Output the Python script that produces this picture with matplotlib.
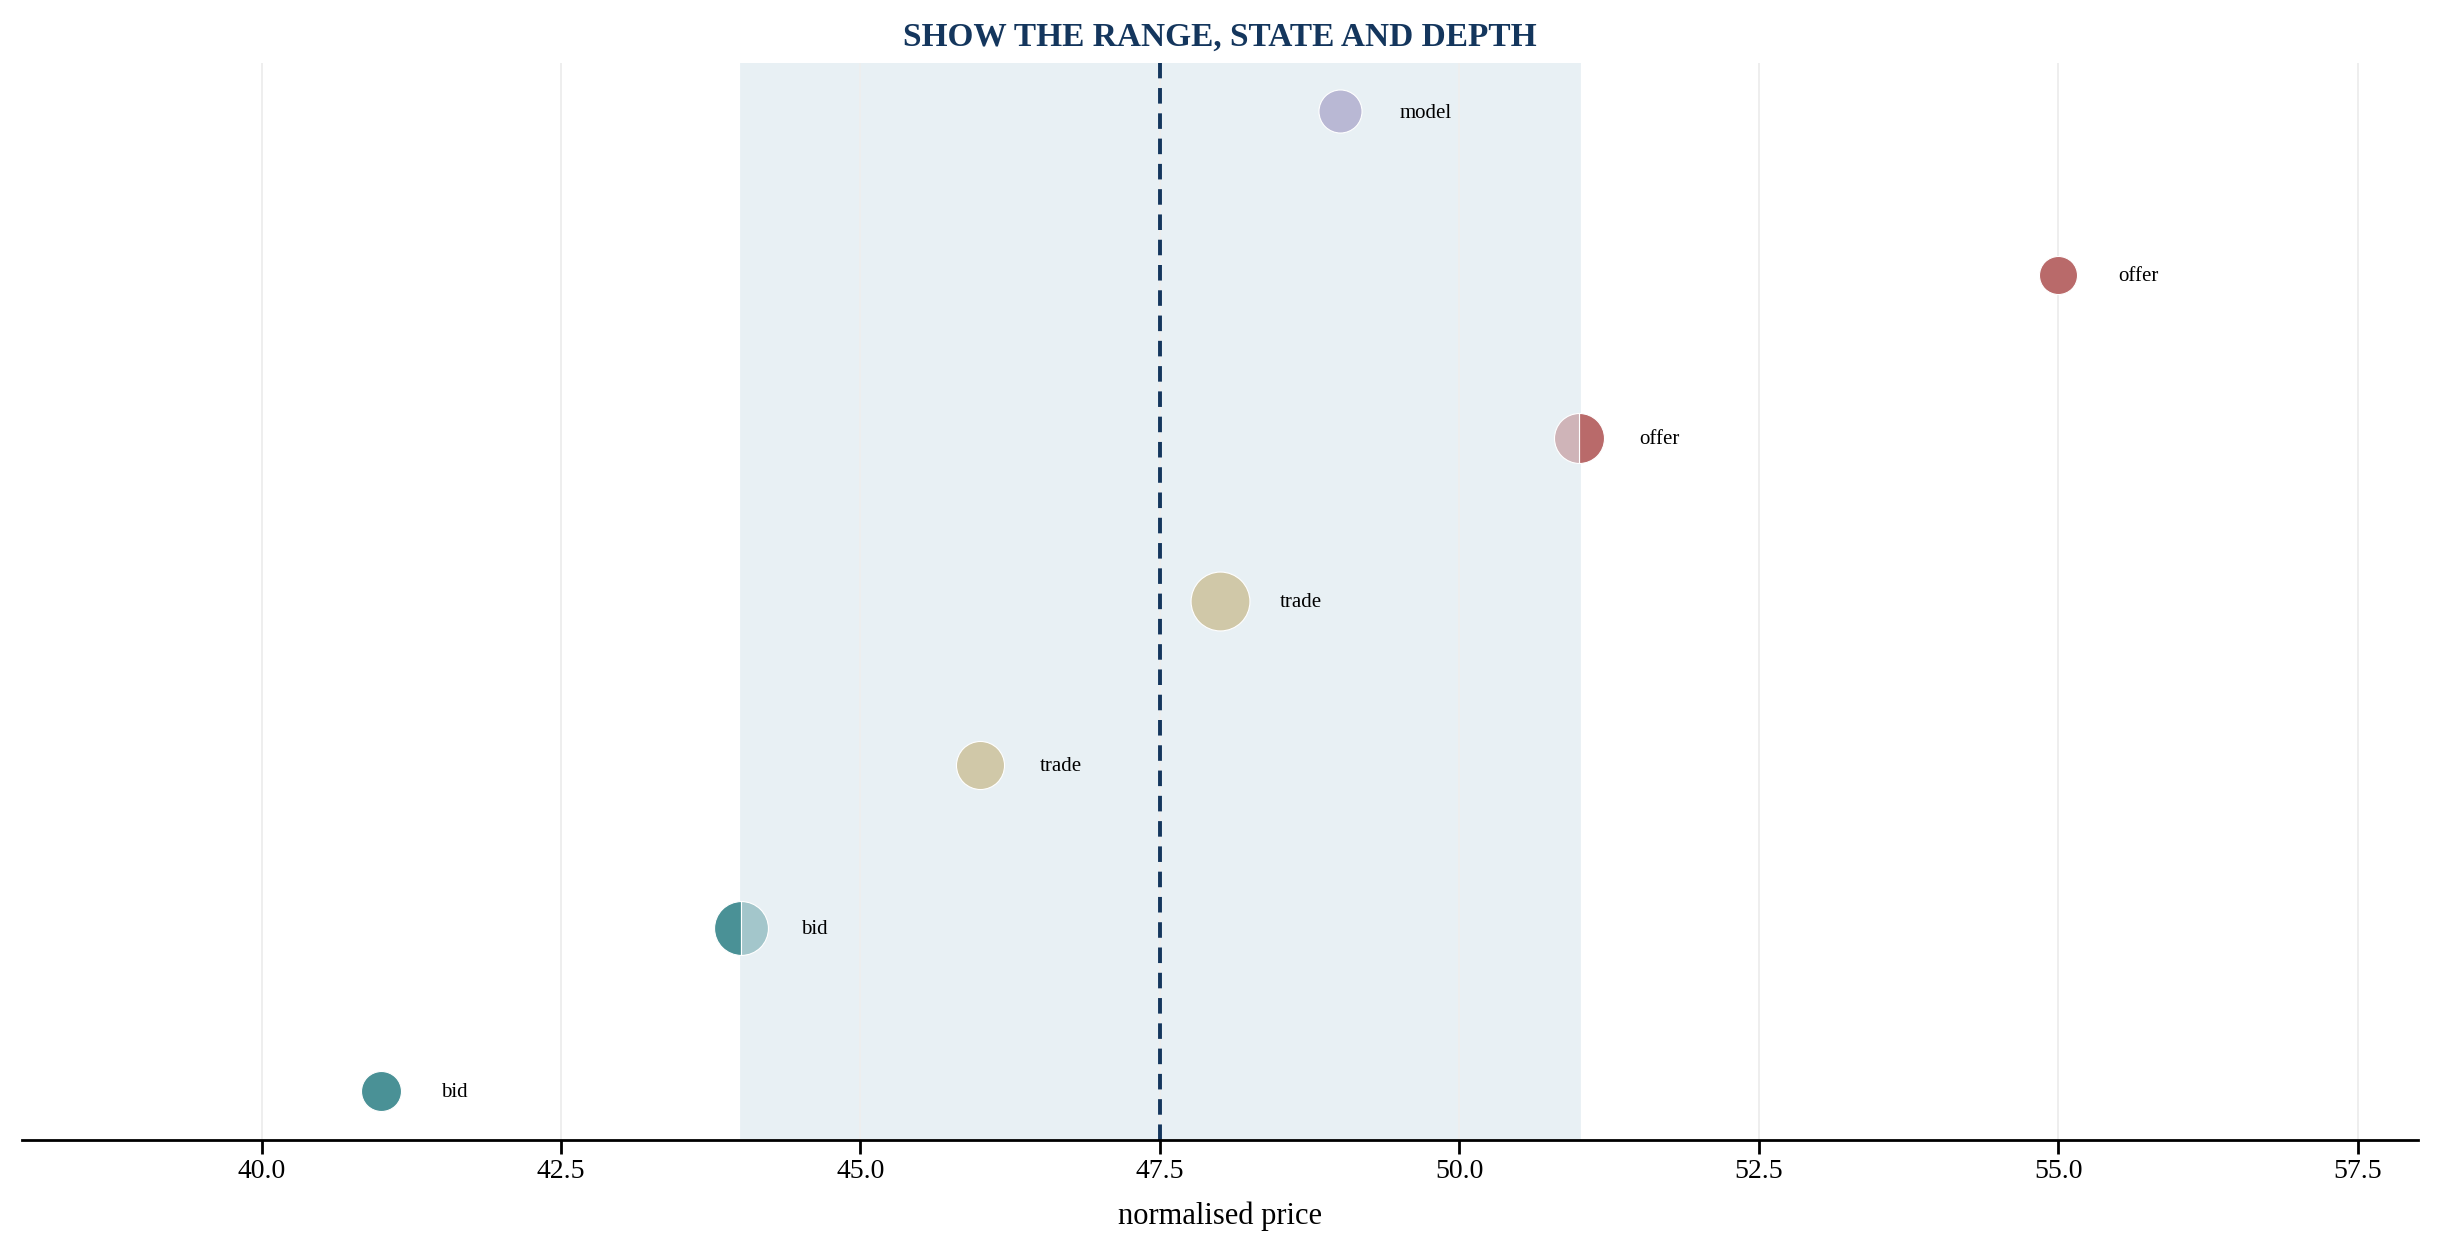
import numpy as np
import matplotlib.pyplot as plt

plt.rcParams['font.family'] = ['Liberation Serif', 'DejaVu Serif']

# rows from bottom to top
labels = ['bid', 'bid', 'trade', 'trade', 'offer', 'offer', 'model']
prices = [41.0, 44.0, 46.0, 48.0, 51.0, 55.0, 49.0]
depth = [14.4, 19.4, 17.3, 21.2, 18.0, 13.7, 15.5]   # marker diameter, pt
split = [None, 'left', None, None, 'right', None, None]  # which half is solid

range_lo, range_hi = 44.0, 51.0
mid_price = 47.5
xticks = [40.0, 42.5, 45.0, 47.5, 50.0, 52.5, 55.0, 57.5]

dark = {'bid': '#4a9196', 'offer': '#b96a6a', 'trade': '#d0c8a8', 'model': '#b9b8d4'}
light = {'bid': '#a3c6cb', 'offer': '#cfb4b8'}
navy = '#14365d'

fig = plt.figure(figsize=(12.21, 6.25), dpi=200)
ax = fig.add_axes([0.009, 0.088, 0.981, 0.862])

ax.axvspan(range_lo, range_hi, color='#e8f0f4', zorder=0)
ax.axvline(mid_price, color=navy, ls='--', lw=1.4, dashes=(4, 2.5), zorder=1)

for i, (lab, p, d, s) in enumerate(zip(labels, prices, depth, split)):
    if s is None:
        ax.plot(p, i, 'o', ms=d, color=dark[lab], mec='white', mew=0.4,
                zorder=3)
    else:
        ax.plot(p, i, 'o', ms=d, fillstyle=s, color=dark[lab],
                markerfacecoloralt=light[lab], mec='white', mew=0.4, zorder=3)
    ax.text(p + 0.5, i - 0.01, lab, fontsize=7.5, va='center', ha='left', zorder=4)

ax.set_xlim(38, 58)
ax.set_ylim(-0.3, 6.3)
ax.set_xticks(xticks)
ax.set_xticklabels([f'{t:.1f}' for t in xticks], fontsize=10)
ax.set_yticks([])
ax.grid(axis='x', color='#eeeeee', lw=0.7, zorder=0.5)
ax.set_axisbelow(True)
for side in ['left', 'right', 'top']:
    ax.spines[side].set_visible(False)
ax.spines['bottom'].set_linewidth(1.0)
ax.tick_params(axis='x', length=5, width=1.0, pad=2)
ax.set_xlabel('normalised price', fontsize=11, labelpad=6)
ax.set_title('SHOW THE RANGE, STATE AND DEPTH', fontsize=12, fontweight='bold',
             color=navy, pad=6)

fig.savefig('out.png', dpi=200)
